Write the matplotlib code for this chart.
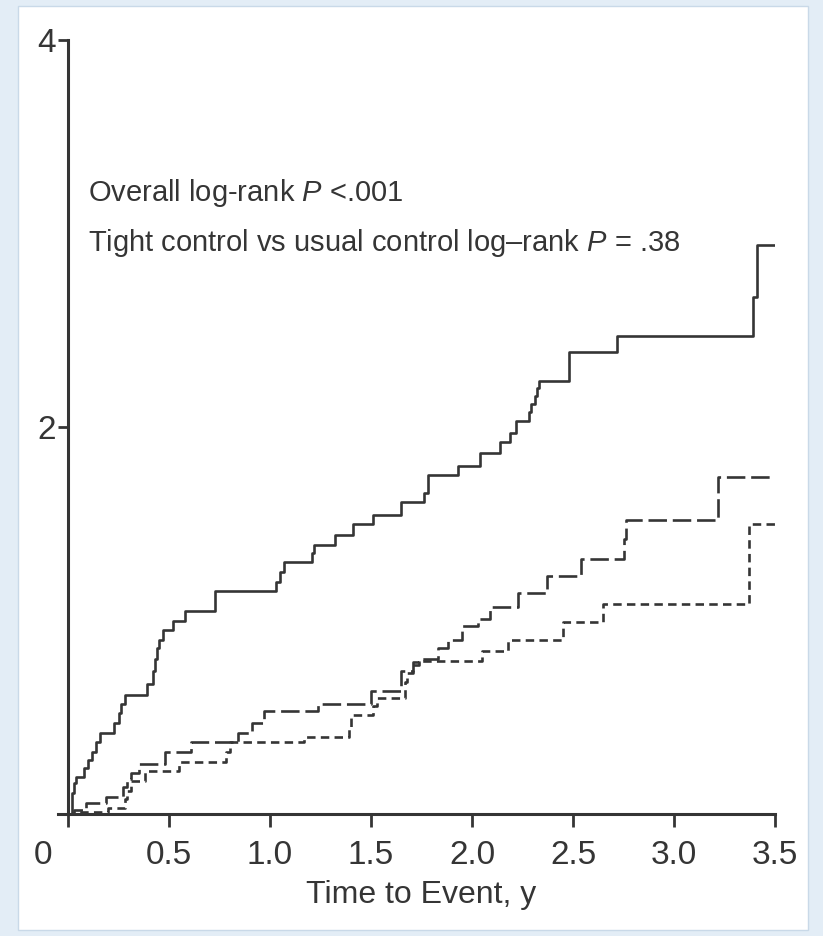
import matplotlib
matplotlib.use("Agg")
import matplotlib.pyplot as plt
from matplotlib.patches import Rectangle
from matplotlib.transforms import ScaledTranslation

plt.rcParams['font.family'] = ['Liberation Sans Narrow', 'Liberation Sans', 'DejaVu Sans']
plt.rcParams['mathtext.fontset'] = 'custom'
plt.rcParams['mathtext.rm'] = 'Liberation Sans'
plt.rcParams['mathtext.it'] = 'Liberation Sans:italic'

# cumulative incidence step curves (time in years, value)
solid_t = [0, 0.02, 0.03, 0.04, 0.08, 0.10, 0.12, 0.14, 0.16, 0.23, 0.25, 0.26, 0.28,
           0.39, 0.42, 0.43, 0.44, 0.45, 0.47, 0.52, 0.58, 0.73, 1.03, 1.05, 1.07,
           1.21, 1.22, 1.32, 1.41, 1.51, 1.65, 1.76, 1.78, 1.93, 2.04, 2.14, 2.19,
           2.22, 2.28, 2.29, 2.31, 2.32, 2.33, 2.48, 2.72, 3.39, 3.41, 3.50]
solid_v = [0, 0.11, 0.16, 0.19, 0.24, 0.28, 0.32, 0.37, 0.42, 0.47, 0.52, 0.57, 0.615,
           0.67, 0.74, 0.80, 0.86, 0.90, 0.95, 1.00, 1.05, 1.15, 1.20, 1.25, 1.30,
           1.35, 1.39, 1.44, 1.50, 1.545, 1.61, 1.66, 1.75, 1.80, 1.865, 1.92, 1.97,
           2.03, 2.08, 2.12, 2.16, 2.20, 2.24, 2.39, 2.47, 2.67, 2.94, 2.94]

long_t = [0, 0.03, 0.09, 0.19, 0.27, 0.29, 0.31, 0.35, 0.48, 0.61, 0.84, 0.91, 0.97,
          1.24, 1.50, 1.65, 1.71, 1.74, 1.83, 1.88, 1.95, 2.03, 2.09, 2.23, 2.37,
          2.54, 2.75, 2.76, 3.22, 3.50]
long_v = [0, 0.02, 0.057, 0.09, 0.14, 0.18, 0.21, 0.26, 0.32, 0.37, 0.42, 0.47, 0.53,
          0.57, 0.635, 0.74, 0.785, 0.80, 0.86, 0.90, 0.97, 1.01, 1.07, 1.14, 1.23,
          1.32, 1.42, 1.52, 1.74, 1.74]

short_t = [0, 0.04, 0.20, 0.28, 0.29, 0.31, 0.38, 0.55, 0.78, 0.80, 1.17, 1.39, 1.40,
           1.51, 1.53, 1.67, 1.68, 1.71, 1.74, 2.05, 2.18, 2.45, 2.65, 3.37, 3.50]
short_v = [0, 0.01, 0.03, 0.08, 0.12, 0.17, 0.22, 0.27, 0.32, 0.37, 0.40, 0.45, 0.51,
           0.56, 0.60, 0.68, 0.73, 0.77, 0.79, 0.84, 0.90, 0.99, 1.085, 1.50, 1.50]

x_ticks = [0, 0.5, 1.0, 1.5, 2.0, 2.5, 3.0, 3.5]
x_labels = ['0', '0.5', '1.0', '1.5', '2.0', '2.5', '3.0', '3.5']
y_ticks = [2, 4]
y_labels = ['2', '4']

ink = '#353535'

fig = plt.figure(figsize=(8.23, 9.36), dpi=100, facecolor='#e3edf6')
# white panel inside the pale blue frame
fig.patches.append(Rectangle((18 / 823, 6 / 936), 790 / 823, 924 / 936,
                             transform=fig.transFigure, facecolor='white',
                             edgecolor='#c9d9e8', linewidth=1.0, zorder=-10))

ax = fig.add_axes([68 / 823, 1 - 814 / 936, 707 / 823, 774 / 936])
ax.set_facecolor('none')
ax.set_zorder(5)

lw = 1.9
ax.step(solid_t, solid_v, where='post', color=ink, lw=lw)
ax.step(long_t, long_v, where='post', color=ink, lw=lw, linestyle=(0, (7, 2.2)))
ax.step(short_t, short_v, where='post', color=ink, lw=lw, linestyle=(0, (3.2, 2.0)))

ax.set_xlim(0, 3.5)
ax.set_ylim(0, 4)
for side in ('top', 'right'):
    ax.spines[side].set_visible(False)
for side in ('left', 'bottom'):
    ax.spines[side].set_color(ink)
    ax.spines[side].set_linewidth(2.2)
ax.spines['bottom'].set_bounds(-0.05, 3.5)

ax.set_xticks(x_ticks)
ax.set_xticklabels(x_labels)
ax.set_yticks(y_ticks)
ax.set_yticklabels(y_labels)
ax.tick_params(axis='x', length=9, width=2, color=ink, labelcolor=ink,
               labelsize=24, pad=10)
ax.tick_params(axis='y', length=7, width=2, color=ink, labelcolor=ink,
               labelsize=24, pad=2)

# origin label sits left of its tick
zero = ax.get_xticklabels()[0]
zero.set_transform(zero.get_transform() + ScaledTranslation(-0.25, 0, fig.dpi_scale_trans))

ax.set_xlabel('Time to Event, y', fontsize=23, color=ink, labelpad=6)

ax.text(0.1, 3.17, 'Overall log-rank $P$ <.001', fontsize=21, color=ink, va='baseline')
ax.text(0.1, 2.91, 'Tight control vs usual control log\u2013rank $P$ = .38',
        fontsize=21, color=ink, va='baseline')

fig.savefig('out.png', dpi=100, facecolor=fig.get_facecolor())
